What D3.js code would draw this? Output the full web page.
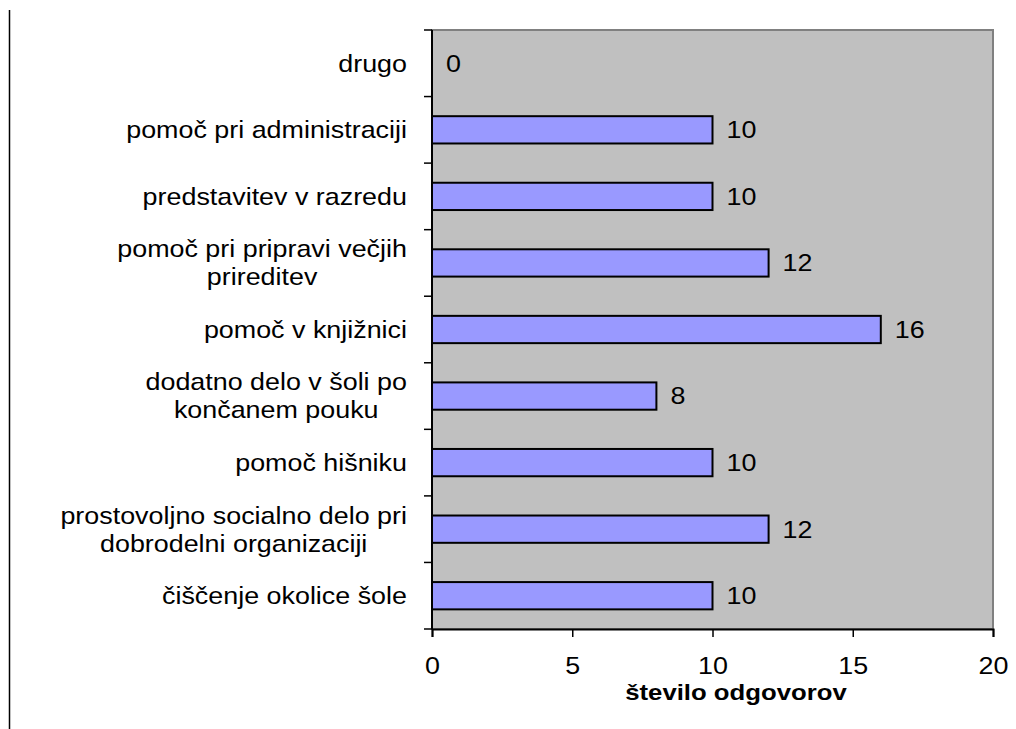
<!DOCTYPE html>
<html>
<head>
<meta charset="utf-8">
<script src="https://cdn.jsdelivr.net/npm/d3@7"></script>
<style>
  body { margin: 0; background: #fff; }
  text { font-family: "Liberation Sans", Arial, sans-serif; fill: #000; }
</style>
</head>
<body>
<div id="chart"></div>
<script>
// Categories from top to bottom
const categories = [
  ['drugo'],
  ['pomoč pri administraciji'],
  ['predstavitev v razredu'],
  ['pomoč pri pripravi večjih', 'prireditev'],
  ['pomoč v knjižnici'],
  ['dodatno delo v šoli po', 'končanem pouku'],
  ['pomoč hišniku'],
  ['prostovoljno socialno delo pri', 'dobrodelni organizaciji'],
  ['čiščenje okolice šole']
];
const values = [0, 10, 10, 12, 16, 8, 10, 12, 10];
const xTicks = [0, 5, 10, 15, 20];
const xTitle = 'število odgovorov';

const width = 1016, height = 729;
const plot = { left: 432, right: 993, top: 30, bottom: 629 };
const fontSize = 24;
const stretch = 1.12; // the text in the picture is a bit wide

const svg = d3.select('#chart').append('svg')
  .attr('width', width)
  .attr('height', height);

const data = categories.map((c, i) => ({ lines: c, value: values[i], key: i }));

// Scales
const x = d3.scaleLinear().domain([0, 20]).range([plot.left, plot.right]);
const y = d3.scaleBand().domain(data.map(d => d.key)).range([plot.top, plot.bottom]).padding(0);

// Left border line of the slide
svg.append('line')
  .attr('x1', 9.5).attr('x2', 9.5)
  .attr('y1', 10).attr('y2', height)
  .style('stroke', '#000')
  .style('stroke-width', 1.5);

// Plot background
svg.append('rect')
  .attr('x', plot.left)
  .attr('y', plot.top)
  .attr('width', plot.right - plot.left)
  .attr('height', plot.bottom - plot.top)
  .style('fill', '#c0c0c0')
  .style('stroke', '#808080')
  .style('stroke-width', 2);

// Bars
const barH = y.bandwidth() * 0.41;
svg.selectAll('rect.bar')
  .data(data.filter(d => d.value > 0))
  .enter()
  .append('rect')
  .attr('class', 'bar')
  .attr('x', x(0))
  .attr('y', d => y(d.key) + (y.bandwidth() - barH) / 2)
  .attr('width', d => x(d.value) - x(0))
  .attr('height', barH)
  .style('fill', '#9999ff')
  .style('stroke', '#000')
  .style('stroke-width', 2);

// Value labels
svg.selectAll('text.value')
  .data(data)
  .enter()
  .append('text')
  .attr('class', 'value')
  .attr('transform', d => `translate(${x(d.value) + 14},${y(d.key) + y.bandwidth() / 2}) scale(${stretch},1)`)
  .attr('dy', '0.35em')
  .style('font-size', fontSize + 'px')
  .text(d => d.value);

// Y axis (category ticks at band edges)
const yAxis = svg.append('g');
yAxis.append('line')
  .attr('x1', plot.left).attr('x2', plot.left)
  .attr('y1', plot.top).attr('y2', plot.bottom)
  .style('stroke', '#000').style('stroke-width', 2);
yAxis.selectAll('line.tick')
  .data(d3.range(categories.length + 1))
  .enter()
  .append('line')
  .attr('class', 'tick')
  .attr('x1', plot.left - 8).attr('x2', plot.left)
  .attr('y1', i => plot.top + i * y.step())
  .attr('y2', i => plot.top + i * y.step())
  .style('stroke', '#000').style('stroke-width', 1.5);

// Category labels, lines centered inside a right-aligned block
const labelRight = 407;
const lineH = 28;
const labels = svg.selectAll('g.label')
  .data(data)
  .enter()
  .append('g')
  .attr('class', 'label');
labels.each(function (d) {
  const g = d3.select(this);
  const cy = y(d.key) + y.bandwidth() / 2;
  const n = d.lines.length;
  const texts = g.selectAll('text')
    .data(d.lines)
    .enter()
    .append('text')
    .attr('dy', '0.35em')
    .style('font-size', fontSize + 'px')
    .style('text-anchor', 'middle')
    .text(l => l);
  let maxW = 0;
  texts.each(function () { maxW = Math.max(maxW, this.getComputedTextLength()); });
  const cx = labelRight - maxW * stretch / 2;
  texts.attr('transform', (l, j) => `translate(${cx},${cy + (j - (n - 1) / 2) * lineH}) scale(${stretch},1)`);
});

// X axis
const xAxis = svg.append('g')
  .attr('transform', `translate(0,${plot.bottom})`)
  .call(d3.axisBottom(x).tickValues(xTicks).tickSize(8).tickPadding(20));
xAxis.select('.domain').style('stroke', '#000').style('stroke-width', 2);
xAxis.selectAll('.tick line').style('stroke', '#000').style('stroke-width', 1.5);
xAxis.selectAll('.tick text')
  .attr('transform', `scale(${stretch},1)`)
  .style('font-family', '"Liberation Sans", Arial, sans-serif')
  .style('font-size', fontSize + 'px')
  .style('fill', '#000');

// X axis title
svg.append('text')
  .attr('transform', `translate(736,700) scale(1.17,1)`)
  .style('text-anchor', 'middle')
  .style('font-size', '22px')
  .style('font-weight', 'bold')
  .text(xTitle);
</script>
</body>
</html>
